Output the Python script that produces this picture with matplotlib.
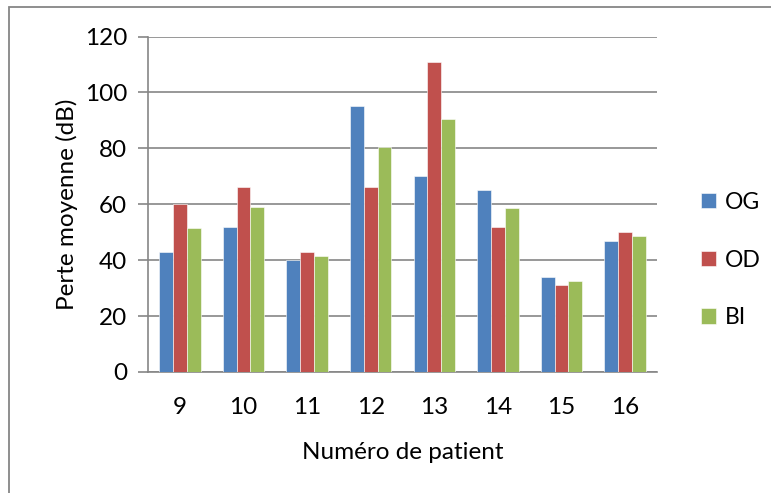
import matplotlib.pyplot as plt
import matplotlib.patches as mpatches
import numpy as np

plt.rcParams['font.family'] = ['Lato', 'DejaVu Sans']

patients = ['9', '10', '11', '12', '13', '14', '15', '16']
og = [43, 52, 40, 95, 70, 65, 34, 47]
od = [60, 66, 43, 66, 111, 52, 31, 50]
bi = [51.5, 59, 41.5, 80.5, 90.5, 58.5, 32.5, 48.5]

colors = ['#4F81BD', '#C0504D', '#9BBB59']
grid_color = '#868686'
fs = 17.5

fig = plt.figure(figsize=(7.71, 4.93), dpi=100)
ax = fig.add_axes([148 / 771, 1 - 372 / 493, (657 - 148) / 771, (372 - 36.5) / 493])

# chart border (cut off at right and bottom like the reference)
fig.patches.append(mpatches.Rectangle((9 / 771, -0.1), 1.2, 1.1 - 7 / 493,
                                      transform=fig.transFigure, fill=False,
                                      edgecolor=grid_color, linewidth=1.3))

x = np.arange(len(patients))
w = 0.217
for i, (vals, lab) in enumerate(zip([og, od, bi], ['OG', 'OD', 'BI'])):
    ax.bar(x + (i - 1) * w, vals, w, color=colors[i], label=lab,
           edgecolor='white', linewidth=0.4, zorder=3)

ax.set_xlim(-0.5, len(patients) - 0.5)
ax.set_ylim(0, 120)
ax.set_yticks(range(0, 121, 20))
ax.set_xticks(x)
ax.set_xticklabels(patients)
ax.yaxis.grid(True, color=grid_color, linewidth=1.2)
ax.set_axisbelow(True)

for s in ['top', 'right']:
    ax.spines[s].set_visible(False)
for s in ['left', 'bottom']:
    ax.spines[s].set_color(grid_color)
    ax.spines[s].set_linewidth(1.2)

ax.tick_params(axis='y', length=7, width=1.2, color=grid_color, labelsize=fs, pad=8)
ax.tick_params(axis='x', length=0, labelsize=fs, pad=18)

ax.set_xlabel('Numéro de patient', fontsize=fs, labelpad=17)
ax.set_ylabel('Perte moyenne (dB)', fontsize=fs, labelpad=5)

fig.legend(loc='center left', bbox_to_anchor=(680 / 771, 1 - 260 / 493),
           frameon=False, fontsize=16.5, handlelength=0.65, handleheight=0.65,
           labelspacing=1.6, handletextpad=0.4)

fig.savefig('out.png', dpi=100)
